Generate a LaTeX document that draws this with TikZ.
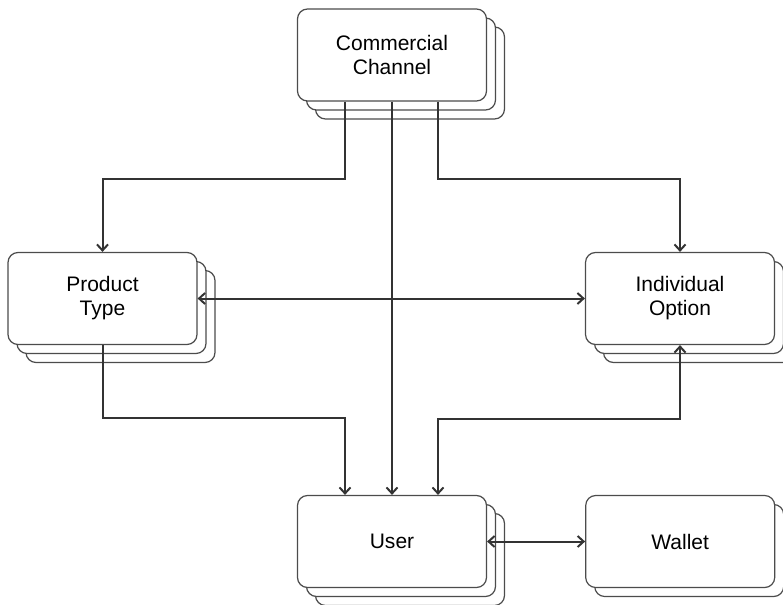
\documentclass[tikz,border=0pt]{standalone}
\usepackage{fontspec}
\setmainfont{Liberation Sans}
\usetikzlibrary{arrows.meta, positioning, shadows}
\tikzset{
  card/.style={draw=black!70, line width=1.2pt, rounded corners=10pt, fill=white,
    minimum height=92pt, minimum width=189pt, align=center,
    font=\fontsize{21}{24}\selectfont},
  stack/.style={card,
    copy shadow={shadow xshift=18pt, shadow yshift=-18pt, draw=black!70, line width=1.2pt},
    copy shadow={shadow xshift=9pt, shadow yshift=-9pt, draw=black!70, line width=1.2pt}},
  pair/.style={card,
    copy shadow={shadow xshift=9pt, shadow yshift=-9pt, draw=black!70, line width=1.2pt}},
  arr/.style={-{Straight Barb[length=6pt, width=11pt]}, line width=2pt, draw=black!80},
  dbl/.style={arr, {Straight Barb[length=6pt, width=11pt]}-{Straight Barb[length=6pt, width=11pt]}},
}
\begin{document}
\begin{tikzpicture}[x=1pt, y=-1pt, node distance=98pt]
    \useasboundingbox (0,0) rectangle (783,604);
    \node[stack] (cc) at (392,55) {Commercial\\Channel};
    \node[stack] (pt) at (102.5,298.5) {Product\\Type};
    \node[stack] (io) at (680,298.5) {Individual\\Option};
    \node[stack] (user) at (392,541.5) {User};
    \node[pair, right=of user] (wallet) {Wallet};
    \draw[arr] ([xshift=-47pt]cc.south) -- ++(0,77) -| (pt.north);
    \draw[arr] (cc.south) -- (user.north);
    \draw[arr] ([xshift=46pt]cc.south) -- ++(0,77) -| (io.north);
    \draw[dbl] (pt.east) -- (io.west);
    \draw[arr] (pt.south) -- ++(0,73) -| ([xshift=-47pt]user.north);
    \draw[dbl] ([xshift=46pt]user.north) -- ++(0,-76) -| (io.south);
    \draw[dbl] (user.east) -- (wallet.west);
\end{tikzpicture}
\end{document}
